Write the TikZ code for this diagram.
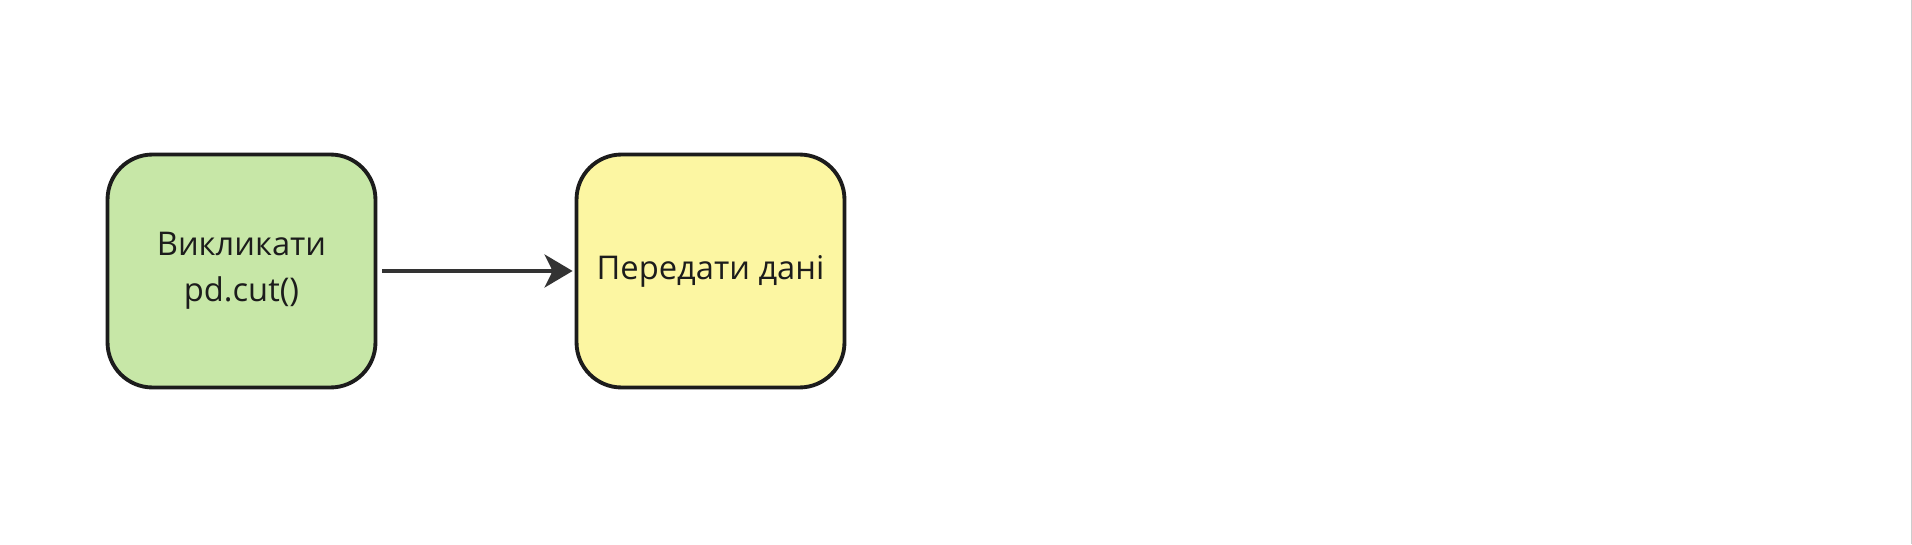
\documentclass[tikz,border=0pt]{standalone}
\usepackage{fontspec}
\setmainfont{Open Sans}
\usetikzlibrary{arrows.meta}
\definecolor{stepgreen}{HTML}{C7E7A7}
\definecolor{stepyellow}{HTML}{FCF6A2}
\definecolor{edgeblack}{HTML}{1C1C1C}
\definecolor{arrowgray}{HTML}{333333}

\begin{document}
\begin{tikzpicture}[x=0.02cm, y=-0.02cm,
    stepbox/.style={draw=edgeblack, line width=2.2pt, rounded corners=0.9cm,
        minimum width=5.36cm, minimum height=4.66cm, align=center,
        font=\fontsize{18.6}{26}\selectfont, text=edgeblack},
    flow/.style={draw=arrowgray, line width=2.1pt,
        -{Stealth[length=0.56cm, width=0.66cm, inset=0.16cm]}}]
    \useasboundingbox[fill=white] (0,0) rectangle (1912,544);
    \draw[gray!40, line width=0.6pt] (1911,0) -- (1911,544);
    \node[stepbox, fill=stepgreen] (call) at (241.5,271) {Викликати\\pd.cut()};
    \node[stepbox, fill=stepyellow] (pass) at (710.5,271) {Передати дані};
    \draw[flow, shorten <=0.1cm, shorten >=0.04cm] (call) -- (pass);
\end{tikzpicture}
\end{document}
